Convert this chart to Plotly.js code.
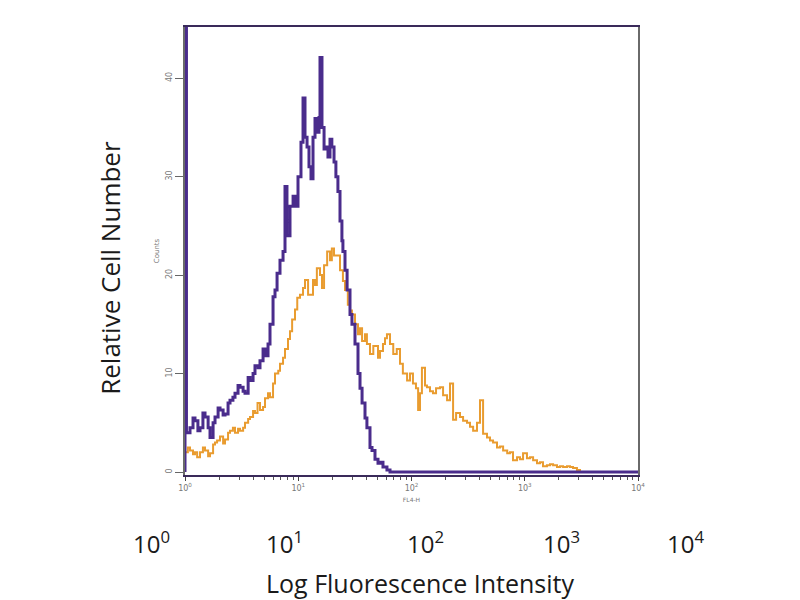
<!DOCTYPE html>
<html>
<head>
<meta charset="utf-8">
<script src="https://cdn.plot.ly/plotly-3.0.1.min.js"></script>
<style>html,body{margin:0;padding:0;background:#fff;}#chart{width:800px;height:600px;}</style>
</head>
<body>
<div id="chart"></div>
<script>
// Purple histogram (control)
var purpleX = [1.0, 1.0, 1.03, 1.06, 1.107, 1.177, 1.225, 1.30, 1.357, 1.44, 1.502, 1.60, 1.663, 1.77, 1.841, 1.96, 2.038, 2.17, 2.256, 2.40, 2.497, 2.65, 2.764, 2.94, 3.06, 3.26, 3.387, 3.61, 3.749, 3.99, 4.15, 4.42, 4.595, 4.89, 5.087, 5.41, 5.631, 5.99, 6.233, 6.50, 6.90, 7.34, 7.638, 7.95, 8.456, 9.00, 9.361, 9.95, 10.57, 11.02, 11.47, 11.96, 12.44, 12.96, 13.5, 14.06, 14.6, 15.25, 15.56, 16.2, 16.9, 17.6, 18.3, 19.07, 19.8, 20.7, 21.5, 22.4, 23.37, 24.3, 24.8, 25.87, 27.0, 28.64, 29.8, 31.7, 33.7, 35.1, 36.6, 38.85, 40.4, 43.0, 44.8, 47.6, 50.6, 52.7, 56.0, 60.7, 64.6, 10000];
var purpleY = [0, 120, 4.0, 4.0, 4.5, 5.5, 5.2, 4.2, 4.5, 6.0, 5.6, 4.5, 3.5, 5.0, 5.6, 6.5, 6.3, 5.8, 5.9, 7.0, 7.3, 7.6, 8.0, 8.8, 8.6, 8.2, 8.0, 9.6, 9.3, 10.0, 10.8, 10.6, 11.3, 12.5, 11.8, 13.0, 15.0, 17.8, 18.5, 20.2, 21.5, 22.4, 29.0, 24.0, 27.0, 28.0, 27.0, 30.0, 33.5, 38.0, 34.0, 33.0, 31.0, 29.8, 34.0, 35.9, 34.5, 36.0, 42.1, 35.0, 32.8, 33.0, 32.0, 33.8, 33.0, 31.5, 30.0, 28.5, 25.5, 23.5, 22.4, 20.5, 18.5, 16.0, 15.0, 13.0, 10.0, 8.5, 7.0, 5.5, 4.5, 2.5, 2.2, 1.3, 0.9, 1.0, 0.5, 0.2, 0.0, 0.0];

// Orange histogram (stained sample)
var orangeX = [1.02, 1.06, 1.107, 1.177, 1.225, 1.28, 1.357, 1.44, 1.502, 1.60, 1.663, 1.77, 1.841, 1.92, 2.038, 2.17, 2.256, 2.40, 2.497, 2.65, 2.764, 2.94, 3.06, 3.26, 3.387, 3.61, 3.749, 3.99, 4.15, 4.37, 4.595, 4.89, 5.087, 5.41, 5.631, 5.99, 6.233, 6.66, 6.90, 7.34, 7.638, 8.12, 8.456, 8.83, 9.361, 9.80, 10.36, 11.02, 11.47, 12.21, 12.7, 13.5, 14.06, 14.6, 15.56, 16.2, 16.9, 18.0, 19.07, 19.8, 20.7, 21.9, 23.37, 24.8, 25.87, 27.4, 28.64, 29.8, 31.7, 33.7, 35.1, 36.6, 38.85, 40.4, 43.0, 46.0, 50.6, 52.7, 56.0, 58.35, 60.7, 64.6, 69.0, 74.1, 79.15, 83.9, 91.4, 97.0, 103, 109.5, 114.4, 118.9, 123.6, 131.6, 136.9, 145.7, 154.8, 164.7, 178.5, 190.0, 206.1, 218.8, 232.9, 247.6, 268.1, 285.4, 309.1, 328.6, 350, 378.7, 402.7, 428.6, 464.3, 493.4, 525, 569, 604.6, 644, 700, 741, 788, 855, 908, 966, 1046, 1113, 1185, 1283, 1363, 1450, 1570, 1671, 1779, 1927, 2048, 2180, 2360, 2509, 2670, 2890, 3075];
var orangeY = [2.0, 2.5, 2.2, 1.8, 2.0, 1.5, 2.0, 2.5, 2.2, 1.6, 1.9, 2.8, 3.0, 3.2, 3.6, 2.9, 3.3, 4.0, 4.2, 4.5, 4.0, 4.4, 4.2, 4.5, 5.0, 5.4, 5.6, 6.2, 6.0, 7.0, 6.3, 6.6, 7.5, 8.0, 7.6, 9.0, 10.0, 10.3, 11.0, 11.6, 12.5, 13.5, 14.3, 15.5, 16.5, 17.7, 18.0, 18.7, 19.5, 18.0, 18.0, 19.5, 19.0, 20.7, 20.0, 18.7, 21.0, 22.4, 21.5, 22.7, 22.0, 22.0, 20.5, 19.4, 18.5, 17.0, 16.4, 16.0, 15.0, 14.0, 14.6, 13.3, 14.0, 13.0, 12.0, 12.8, 11.6, 12.3, 13.0, 13.6, 14.0, 13.0, 12.0, 12.5, 11.0, 10.0, 9.3, 10.0, 9.0, 8.5, 6.3, 8.0, 10.6, 8.8, 8.6, 8.2, 8.0, 8.5, 8.6, 7.8, 7.3, 9.0, 5.3, 6.0, 5.6, 5.2, 5.0, 4.6, 4.2, 5.0, 7.3, 3.9, 3.5, 3.2, 3.0, 2.5, 2.6, 2.2, 1.9, 2.0, 1.2, 1.5, 1.3, 1.9, 1.4, 1.5, 1.2, 0.9, 1.0, 0.6, 0.7, 0.8, 0.7, 0.5, 0.6, 0.5, 0.6, 0.5, 0.4, 0.2, 0.0];

// Axis ticks
var yTicks = [0, 10, 20, 30, 40];
var xDecades = [1, 10, 100, 1000, 10000];
var xMinor = [2,3,4,5,6,7,8,9,20,30,40,50,60,70,80,90,200,300,400,500,600,700,800,900,2000,3000,4000,5000,6000,7000,8000,9000];
var decadeLabels = ['10<sup>0</sup>', '10<sup>1</sup>', '10<sup>2</sup>', '10<sup>3</sup>', '10<sup>4</sup>'];

// Outer (large) labels
var outerTickLabels = decadeLabels;
var outerTitleX = 'Log Fluorescence Intensity';
var outerTitleY = 'Relative Cell Number';
var innerTitleX = 'FL4-H';
var innerTitleY = 'Counts';

var purple = '#4a2c8c';
var orange = '#e99c30';

var traces = [
  {x: orangeX, y: orangeY, type: 'scatter', mode: 'lines', line: {color: orange, width: 2, shape: 'hv'}, hoverinfo: 'skip'},
  {x: purpleX, y: purpleY, type: 'scatter', mode: 'lines', line: {color: purple, width: 3, shape: 'hv'}, hoverinfo: 'skip'}
];

var outerXPos = [-0.075, 0.219, 0.530, 0.832, 1.104];
var annotations = outerTickLabels.map(function (t, i) {
  return {text: t, xref: 'paper', yref: 'paper', x: outerXPos[i], y: -0.150, showarrow: false,
          font: {family: 'Open Sans, sans-serif', size: 24, color: '#1a1a1a'}, xanchor: 'center', yanchor: 'middle'};
});
annotations.push({text: outerTitleX, xref: 'paper', yref: 'paper', x: 0.519, y: -0.241, showarrow: false,
  font: {family: 'Open Sans, sans-serif', size: 25, color: '#1a1a1a'}, xanchor: 'center', yanchor: 'middle'});
annotations.push({text: outerTitleY, xref: 'paper', yref: 'paper', x: -0.166, y: 0.462, showarrow: false, textangle: -90,
  font: {family: 'Open Sans, sans-serif', size: 26, color: '#1a1a1a'}, xanchor: 'center', yanchor: 'middle'});

var layout = {
  width: 800, height: 600,
  margin: {l: 185, r: 162, t: 27, b: 125},
  paper_bgcolor: '#ffffff', plot_bgcolor: '#ffffff',
  showlegend: false,
  xaxis: {
    type: 'log', range: [0, 4], tickmode: 'array', tickvals: xDecades, ticktext: decadeLabels,
    ticks: 'outside', ticklen: 4, tickcolor: '#444', tickwidth: 1,
    minor: {tickmode: 'array', tickvals: xMinor, ticks: 'outside', ticklen: 3, tickcolor: '#555', tickwidth: 1, showgrid: false},
    tickfont: {family: 'DejaVu Sans, sans-serif', size: 8, color: '#777'},
    showline: true, linecolor: '#3a2a5a', linewidth: 2, mirror: true,
    showgrid: false, zeroline: false,
    title: {text: innerTitleX, font: {family: 'DejaVu Sans, sans-serif', size: 6, color: '#777'}, standoff: 6}
  },
  yaxis: {
    range: [-0.3, 45.2], tickmode: 'array', tickvals: yTicks, tickangle: -90,
    ticks: 'outside', ticklen: 8, tickcolor: '#666', tickwidth: 1,
    tickfont: {family: 'DejaVu Sans, sans-serif', size: 8, color: '#777'},
    showline: true, linecolor: '#6a6a6a', linewidth: 2, mirror: true,
    showgrid: false, zeroline: false,
    title: {text: innerTitleY, font: {family: 'DejaVu Sans, sans-serif', size: 7, color: '#777'}, standoff: 4}
  },
  annotations: annotations
};

Plotly.newPlot('chart', traces, layout, {displayModeBar: false, staticPlot: true});
</script>
</body>
</html>
